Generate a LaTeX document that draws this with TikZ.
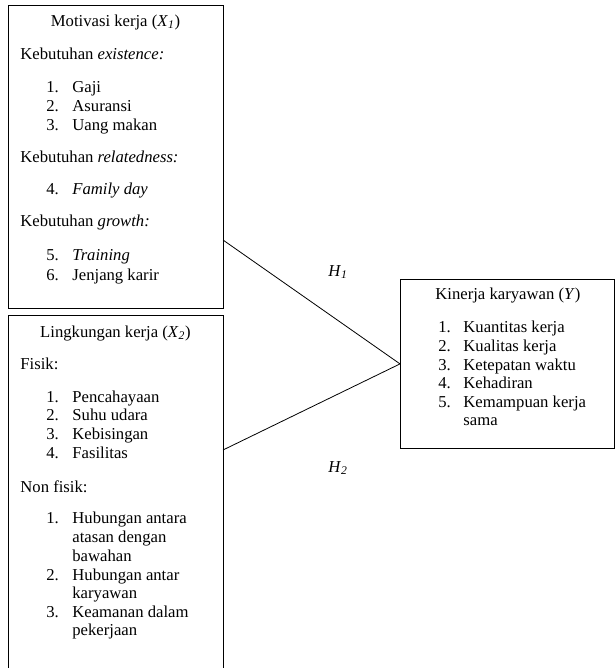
\documentclass[tikz,border=0pt]{standalone}
\usepackage{fontspec}
\setmainfont{Liberation Serif}
\usetikzlibrary{positioning}

\begin{document}
\begin{tikzpicture}[x=0.75pt, y=-0.75pt, line width=0.6pt,
  font=\fontsize{12.5}{15}\selectfont,
  box/.style={draw, anchor=north west, inner sep=0pt},
  txt/.style={anchor=base west, inner sep=0pt},
  ttl/.style={anchor=base, inner sep=0pt}]

\useasboundingbox (0,0) rectangle (616,668);
\clip (0,0) rectangle (616,668);

% Boxes
\node[box, minimum width=161.25pt, minimum height=227.25pt] (motivasi) at (8,5) {};
\node[box, minimum width=161.25pt, minimum height=288.75pt] (lingkungan) at (8,315) {};
\node[box, minimum width=160.5pt, minimum height=126.75pt] (kinerja) at (400,279) {};

% Motivasi kerja
\node[ttl] (titlex1) at (115.5,26) {Motivasi kerja (\textit{X}\textsubscript{\textit{1}})};
\node[txt] (exist) at (20,59) {Kebutuhan \textit{existence:}};
\node[txt] (relat) at (20,162) {Kebutuhan \textit{relatedness:}};
\node[txt] (grow) at (20,226) {Kebutuhan \textit{growth:}};
\foreach \y/\num/\item [count=\i] in {
    92/1./Gaji,
    111/2./Asuransi,
    130/3./Uang makan,
    194/4./{\textit{Family day}},
    260/5./{\textit{Training}},
    280/6./Jenjang karir
  }
{
  \node[txt] (mnum\i) at (46,\y) {\num};
  \node[txt] (mitem\i) at (72,\y) {\item};
}

% Lingkungan kerja
\node[ttl] (titlex2) at (115.5,337) {Lingkungan kerja (\textit{X}\textsubscript{\textit{2}})};
\node[txt] (fisik) at (20,369) {Fisik:};
\node[txt] (nonfisik) at (20,492) {Non fisik:};
\foreach \y/\num/\item [count=\i] in {
    402/1./Pencahayaan,
    420/2./Suhu udara,
    439/3./Kebisingan,
    458/4./Fasilitas,
    523/1./Hubungan antara,
    542//atasan dengan,
    561//bawahan,
    580/2./Hubungan antar,
    598//karyawan,
    617/3./Keamanan dalam,
    635//pekerjaan
  }
{
  \node[txt] (lnum\i) at (46,\y) {\num};
  \node[txt] (litem\i) at (72,\y) {\item};
}

% Kinerja karyawan
\node[txt] (titley) at (435,299) {Kinerja karyawan (\textit{Y})};
\foreach \y/\num/\item [count=\i] in {
    332/1./Kuantitas kerja,
    351/2./Kualitas kerja,
    370/3./Ketepatan waktu,
    388/4./Kehadiran,
    407/5./Kemampuan kerja,
    425//sama
  }
{
  \node[txt] (knum\i) at (438,\y) {\num};
  \node[txt] (kitem\i) at (463,\y) {\item};
}

% Hypotheses
\coordinate (hstart1) at (223,240);
\coordinate (hstart2) at (223,450);
\draw (hstart1) -- (kinerja.west);
\draw (hstart2) -- (kinerja.west);
\node[ttl] (h1) at (338,276) {\textit{H}\textsubscript{\textit{1}}};
\node[ttl] (h2) at (338,472) {\textit{H}\textsubscript{\textit{2}}};

\end{tikzpicture}
\end{document}
